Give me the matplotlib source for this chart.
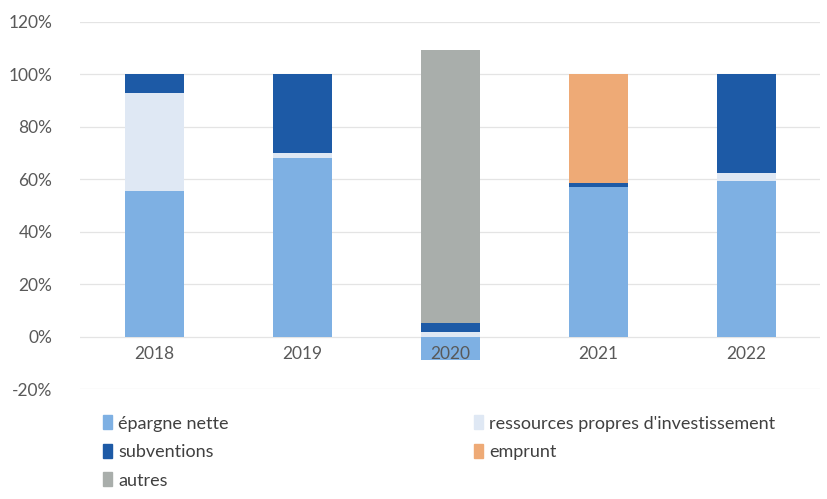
import matplotlib.pyplot as plt
import numpy as np
from matplotlib.patches import Patch
from matplotlib.ticker import FuncFormatter

years = ['2018', '2019', '2020', '2021', '2022']
series = ['épargne nette', 'ressources propres d\'investissement', 'subventions', 'emprunt', 'autres']
epargne = [55.5, 68.0, -9.0, 57.0, 59.3]
ressources = [37.5, 2.0, 1.7, 0.0, 3.2]
subventions = [7.0, 30.0, 3.4, 1.6, 37.5]
emprunt = [0.0, 0.0, 0.0, 41.4, 0.0]
autres = [0.0, 0.0, 104.4, 0.0, 0.0]
colors = ['#7eb0e3', '#dfe8f4', '#1d5aa6', '#eeaa76', '#a9aeab']

plt.rcParams['font.family'] = ['Lato', 'DejaVu Sans']
fig = plt.figure(figsize=(8.27, 4.99), dpi=100)
ax = fig.add_axes([0.097, 0.22, 0.895, 0.736])

x = np.arange(len(years))
pos_base = np.zeros(len(years))
neg_base = np.zeros(len(years))
for vals, col in zip([epargne, ressources, subventions, emprunt, autres], colors):
	vals = np.array(vals)
	base = np.where(vals >= 0, pos_base, neg_base)
	ax.bar(x, vals, width=0.4, bottom=base, color=col, zorder=2)
	pos_base += np.clip(vals, 0, None)
	neg_base += np.clip(vals, None, 0)

ax.set_ylim(-20, 120)
ax.set_xlim(-0.5, 4.5)
ax.set_yticks(range(-20, 121, 20))
ax.yaxis.set_major_formatter(FuncFormatter(lambda v, p: '%d%%' % v))
ax.set_xticks(x)
ax.set_xticklabels(years)
ax.spines['bottom'].set_position(('data', 0))
for s in ax.spines.values():
	s.set_visible(False)
ax.xaxis.set_zorder(5) #year labels sit on top of the negative bar
ax.tick_params(length=0, labelsize=12.5, labelcolor='#595959')
ax.tick_params(axis='x', pad=7)
ax.tick_params(axis='y', pad=20)
ax.grid(axis='y', color='#e4e4e4', lw=0.9, zorder=0)

#two legend columns under the plot
h = [Patch(color=c) for c in colors]
kw = dict(frameon=False, fontsize=13, handlelength=0.5, handleheight=0.8,
	handletextpad=0.35, labelspacing=0.68, labelcolor='#404040')
fig.legend([h[0], h[2], h[4]], [series[0], series[2], series[4]],
	loc='upper left', bbox_to_anchor=(0.105, 0.2), **kw)
fig.legend([h[1], h[3]], [series[1], series[3]],
	loc='upper left', bbox_to_anchor=(0.553, 0.2), **kw)

plt.savefig('out.png')
